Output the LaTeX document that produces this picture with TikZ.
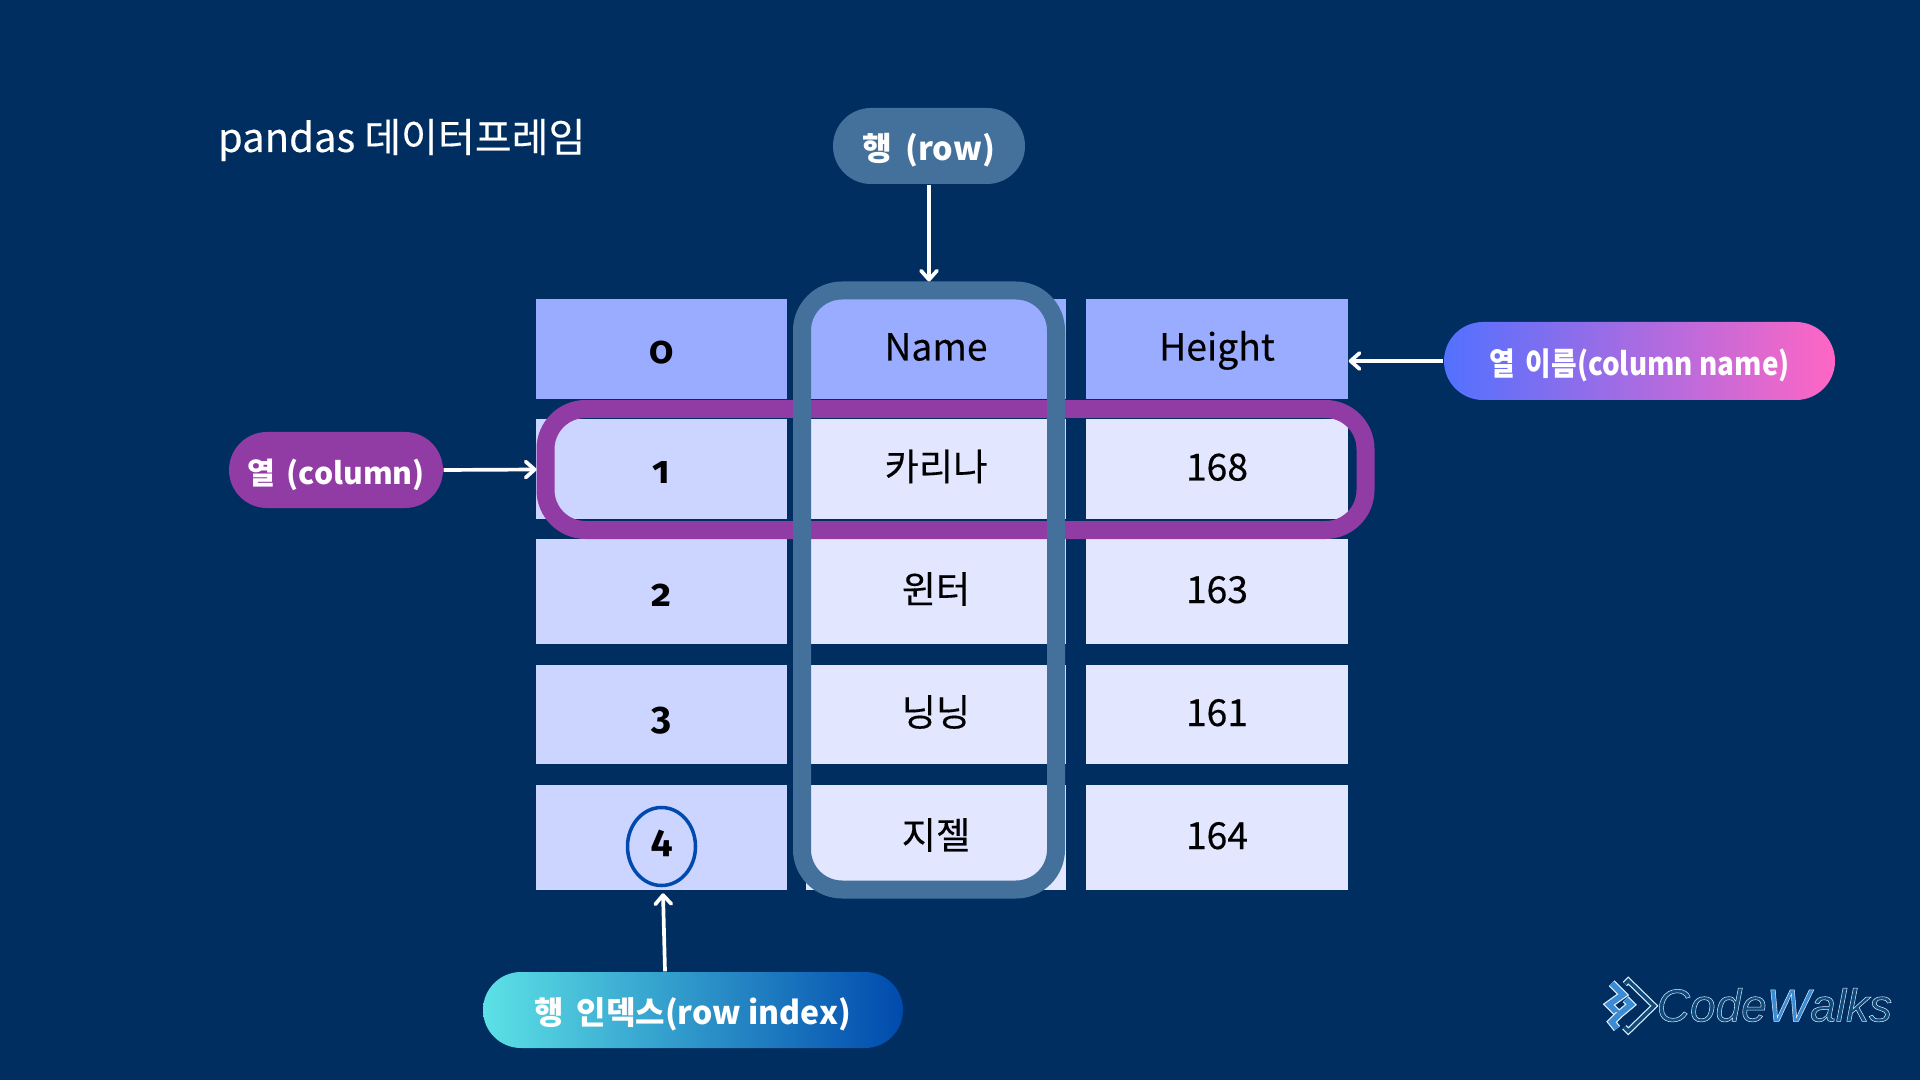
\documentclass[tikz,border=0pt]{standalone}
\usepackage{fontspec}
\setmainfont{Noto Sans CJK KR}
\newfontfamily\medfont[FakeBold=0.3]{Noto Sans CJK KR}
\newfontfamily\idxfont[Numbers=OldStyle]{Fira Sans}
\newfontfamily\logofont{Liberation Sans}
\usetikzlibrary{positioning,calc,arrows.meta,shapes.geometric}
\definecolor{pagecolor}{HTML}{012E60}
\definecolor{headcolor}{HTML}{9AACFF}
\definecolor{indexcolor}{HTML}{CCD5FF}
\definecolor{bodycolor}{HTML}{E2E7FF}
\definecolor{rowcolor}{HTML}{44719B}
\definecolor{colcolor}{HTML}{913BA5}
\definecolor{ringcolor}{HTML}{004AAD}
\definecolor{nameleft}{HTML}{5271FF}
\definecolor{nameright}{HTML}{FF66C4}
\definecolor{idxleft}{HTML}{5CE1E6}
\definecolor{logodark}{HTML}{0E4A7A}
\definecolor{logoblue}{HTML}{3A8BD4}
\newcommand{\logoword}[2]{{\color{#1}\special{pdf:code 2 Tr 0.15 w 0.85 0.92 1 RG}#2\special{pdf:code 0 Tr}}}

\begin{document}
\begin{tikzpicture}[
  font=\fontsize{10.6pt}{12pt}\medfont, >={Straight Barb[round,length=0.9mm,width=1.6mm]},
  cell/.style={inner sep=0pt, text=black, text height=0.23cm, text depth=0cm, align=center},
  idx/.style={cell, fill=indexcolor, minimum width=2.51cm, text height=0.29cm, font=\fontsize{11pt}{12pt}\idxfont\bfseries},
  body/.style={cell, fill=bodycolor, minimum width=2.6cm},
  tall/.style={cell, fill=bodycolor, minimum width=2.62cm},
  pill/.style={inner sep=0pt, text=white, rounded corners=0.38cm, minimum height=0.76cm, text height=0.35cm, text depth=0.06cm},
  band/.style={draw, rounded corners=0.4cm, line width=0.18cm},
  arr/.style={->, white, line width=1.05pt},
  logoline/.style={draw=white!85!logoblue, line width=0.35pt, miter limit=10}
]
  \useasboundingbox (0,0) rectangle (19.2,-10.8);
  \fill[pagecolor] (0,0) rectangle (19.2,-10.8);
  \node[text=white, anchor=west, font=\fontsize{11.4pt}{12pt}\medfont] (title) at (2.055,-1.40) {pandas 데이터프레임};

  \node[idx, fill=headcolor, minimum height=1cm] (i0) at (6.615,-3.49) {0};
  \node[idx, minimum height=1cm] (i1) at (6.615,-4.69) {1};
  \node[idx, minimum height=1.05cm] (i2) at (6.615,-5.915) {2};
  \node[idx, minimum height=0.99cm] (i3) at (6.615,-7.145) {3};
  \node[idx, minimum height=1.05cm] (i4) at (6.615,-8.375) {4};
  \node[body, fill=headcolor, minimum height=1cm] (n0) at (9.36,-3.49) {Name};
  \node[body, minimum height=1cm] (n1) at (9.36,-4.69) {카리나};
  \node[body, minimum height=1.05cm] (n2) at (9.36,-5.915) {윈터};
  \node[body, minimum height=0.99cm] (n3) at (9.36,-7.145) {닝닝};
  \node[body, minimum height=1.05cm] (n4) at (9.36,-8.375) {지젤};
  \node[tall, fill=headcolor, minimum height=1cm] (h0) at (12.17,-3.49) {Height};
  \node[tall, minimum height=1cm] (h1) at (12.17,-4.69) {168};
  \node[tall, minimum height=1.05cm] (h2) at (12.17,-5.915) {163};
  \node[tall, minimum height=0.99cm] (h3) at (12.17,-7.145) {161};
  \node[tall, minimum height=1.05cm] (h4) at (12.17,-8.375) {164};

  \node[band, draw=colcolor, minimum width=8.2cm, minimum height=1.21cm] (colbox) at (9.555,-4.695) {};
  \node[band, draw=rowcolor, minimum width=2.54cm, minimum height=5.99cm] (rowbox) at (9.29,-5.9) {};
  \node[ellipse, draw=ringcolor, line width=1pt, minimum width=0.68cm, minimum height=0.78cm, inner sep=0pt] (ring) at (6.615,-8.465) {};

  \node[pill, fill=rowcolor, minimum width=1.92cm, font=\fontsize{9.2pt}{12pt}\selectfont\bfseries] (rowpill) at (9.29,-1.46) {행 \,(row)};
  \node[pill, fill=colcolor, minimum width=2.14cm, font=\fontsize{8.6pt}{12pt}\selectfont\bfseries] (colpill) at (3.36,-4.7) {열 \,(column)};
  \node[pill, left color=nameleft, right color=nameright, minimum width=3.91cm, minimum height=0.78cm, rounded corners=0.39cm, font=\fontsize{9pt}{12pt}\selectfont\bfseries] (namepill) at (16.395,-3.61) {\scalebox{0.88}[1]{열 \,이름(column name)}};
  \node[pill, left color=idxleft, right color=ringcolor, minimum width=4.2cm, font=\fontsize{9.1pt}{12pt}\selectfont\bfseries] (idxpill) at (6.93,-10.1) {행 \,인덱스(row index)};

  \draw[arr] (rowpill.south) -- (rowbox.north);
  \draw[arr] (colpill.east) -- (colbox.west);
  \draw[arr] (namepill.west) -- (h0.east |- namepill.west);
  \draw[arr] ([xshift=-0.28cm]idxpill.north) -- ([shift={(0.015,-0.06)}]ring.south);

  \begin{scope}[shift={(15.95,-9.70)}, x=0.00333cm, y=-0.00333cm]
    \draw[logoline, double=logodark, double distance=1pt] (90,42) -- (100,32) -- (178,108) -- (100,184) -- (88,172);
    \draw[logoline, double=logoblue, double distance=1.6pt] (50,40) -- (84,74) -- (42,104) -- (72,134) -- (108,104) -- (92,88);
    \draw[logoline, double=logoblue, double distance=1.6pt] (72,134) -- (50,156) -- (66,176);
  \end{scope}
  \node[inner sep=0pt, anchor=west, font=\fontsize{13.1pt}{14pt}\logofont\itshape] (logo) at (16.56,-10.05) {\logoword{logodark}{Code}\logoword{logoblue}{W}\logoword{logodark}{alks}};
\end{tikzpicture}
\end{document}
